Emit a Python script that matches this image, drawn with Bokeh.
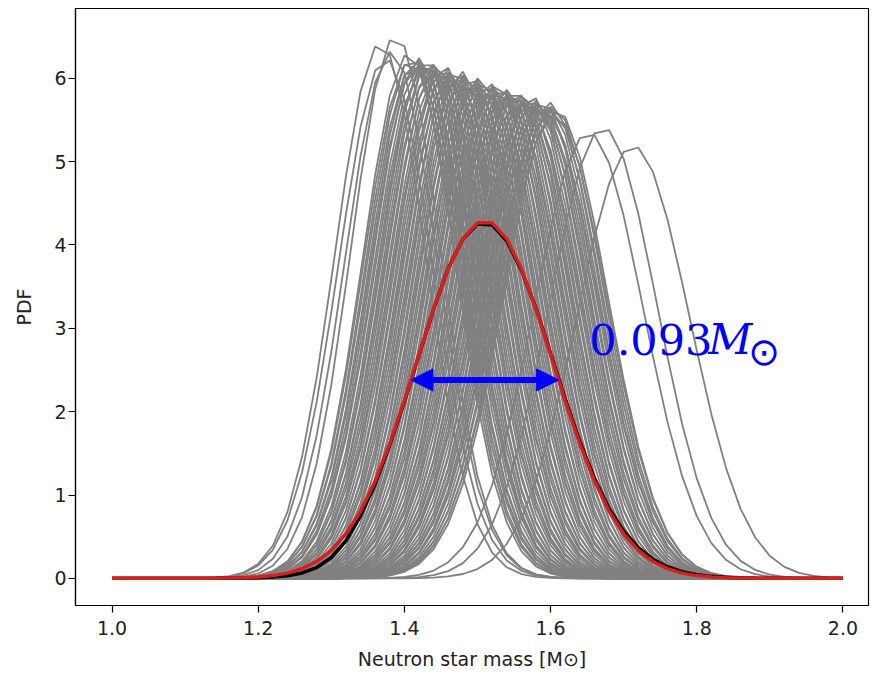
import numpy as np
from bokeh.plotting import figure
from bokeh.models import Arrow, NormalHead, Label, FixedTicker
from bokeh.embed import file_html
from bokeh.resources import INLINE

# ---------------- data ----------------
# sampling grid of the PDFs (neutron star mass, in solar masses)
mass_grid = np.linspace(1.0, 2.0, 51)

# individual posterior PDFs (grey): centre and peak height of each curve
gray_centers = [
    1.367, 1.374, 1.382, 1.388,
    1.406, 1.408, 1.411, 1.413, 1.416, 1.418, 1.420, 1.423, 1.425, 1.428,
    1.430, 1.432, 1.435, 1.437, 1.439, 1.442, 1.444, 1.447, 1.449, 1.451,
    1.454, 1.456, 1.459, 1.461, 1.463, 1.466, 1.468, 1.471, 1.473, 1.475,
    1.478, 1.480, 1.483, 1.485, 1.487, 1.490, 1.492, 1.495, 1.497, 1.499,
    1.502, 1.504, 1.507, 1.509, 1.511, 1.514, 1.516, 1.519, 1.521, 1.523,
    1.526, 1.528, 1.531, 1.533, 1.535, 1.538, 1.540, 1.543, 1.545, 1.547,
    1.550, 1.552, 1.555, 1.557, 1.559, 1.562, 1.564, 1.567, 1.569, 1.571,
    1.574, 1.576, 1.579, 1.581, 1.583, 1.586, 1.588, 1.591, 1.593, 1.595,
    1.598, 1.600, 1.603, 1.605, 1.607,
    1.652, 1.672, 1.713,
]
gray_peaks = [
    6.42, 6.24, 6.32, 6.51,
    6.30, 6.21, 6.25, 6.16, 6.22, 6.16, 6.24, 6.18, 6.10, 6.19,
    6.23, 6.14, 6.18, 6.08, 6.15, 6.09, 6.16, 6.10, 6.03, 6.12,
    6.15, 6.06, 6.11, 6.01, 6.07, 6.01, 6.09, 6.03, 5.95, 6.05,
    6.08, 5.99, 6.03, 5.93, 6.00, 5.94, 6.01, 5.95, 5.88, 5.97,
    6.00, 5.91, 5.96, 5.86, 5.92, 5.86, 5.94, 5.88, 5.80, 5.90,
    5.93, 5.84, 5.88, 5.79, 5.85, 5.79, 5.86, 5.81, 5.73, 5.82,
    5.85, 5.77, 5.81, 5.71, 5.78, 5.72, 5.79, 5.73, 5.66, 5.75,
    5.78, 5.69, 5.73, 5.64, 5.70, 5.64, 5.72, 5.66, 5.58, 5.67,
    5.71, 5.62, 5.66, 5.56, 5.63,
    5.35, 5.41, 5.19,
]

# combined PDF (black) on mass_grid
black_pdf = [
    0.0, 0.0, 0.0, 0.0, 0.0, 0.0, 0.0,
    0.0003, 0.001, 0.003, 0.007, 0.015, 0.032, 0.065, 0.13, 0.25, 0.45,
    0.75, 1.13, 1.60, 2.12, 2.68, 3.23, 3.72, 4.07, 4.25, 4.24, 4.05,
    3.70, 3.24, 2.70, 2.15, 1.64, 1.20, 0.84, 0.57, 0.37, 0.23, 0.14,
    0.08, 0.045, 0.024, 0.012, 0.006, 0.003, 0.001,
    0.0, 0.0, 0.0, 0.0, 0.0,
]
# Gaussian fit (red) on mass_grid
red_pdf = [
    0.0, 0.0, 0.0, 0.0, 0.0001, 0.0002, 0.0005, 0.0016, 0.0036, 0.0079,
    0.0166, 0.033, 0.063, 0.116, 0.202, 0.335, 0.532, 0.807, 1.168, 1.615,
    2.131, 2.686, 3.232, 3.713, 4.073, 4.265, 4.265, 4.073, 3.713, 3.232,
    2.686, 2.131, 1.615, 1.168, 0.807, 0.532, 0.335, 0.202, 0.116, 0.063,
    0.033, 0.0166, 0.0079, 0.0036, 0.0016, 0.0005, 0.0002, 0.0001, 0.0,
    0.0, 0.0,
]

width_level = 2.38          # height at which the width arrow is drawn
width_text = "0.093"        # annotated width
x_ticks = [1.0, 1.2, 1.4, 1.6, 1.8, 2.0]
x_tick_labels = ["1.0", "1.2", "1.4", "1.6", "1.8", "2.0"]
y_ticks = [0, 1, 2, 3, 4, 5, 6]
y_tick_labels = ["0", "1", "2", "3", "4", "5", "6"]

# ---------------- figure ----------------
p = figure(width=870, height=678,
           x_range=(0.95, 2.035), y_range=(-0.3255, 6.836),
           output_backend="svg", toolbar_location=None,
           min_border_left=75, min_border_right=2,
           min_border_top=8, min_border_bottom=73)
p.background_fill_color = "white"
p.border_fill_color = "white"
p.outline_line_color = "black"
p.outline_line_width = 1.2
p.grid.visible = False

xs, ys = [], []
for c, pk in zip(gray_centers, gray_peaks):
    s = 1.0 / (pk * np.sqrt(2 * np.pi))
    xs.append(list(mass_grid))
    ys.append(list(pk * np.exp(-0.5 * ((mass_grid - c) / s) ** 2)))
p.multi_line(xs, ys, line_color="#808080", line_width=1.8)

p.line(mass_grid, black_pdf, line_color="black", line_width=3.5)
p.line(mass_grid, red_pdf, line_color="#dd1c1c", line_width=3.5)

# width arrow at the red curve's crossings of width_level
red = np.array(red_pdf)
imax = int(np.argmax(red))
x_left = float(np.interp(width_level, red[:imax + 1], mass_grid[:imax + 1]))
x_right = float(np.interp(width_level, red[imax:][::-1], mass_grid[imax:][::-1]))
p.add_layout(Arrow(
    start=NormalHead(size=22, fill_color="blue", line_color="blue"),
    end=NormalHead(size=22, fill_color="blue", line_color="blue"),
    x_start=x_left, y_start=width_level, x_end=x_right, y_end=width_level,
    line_color="blue", line_width=6))

tx, ty = 1.653, 2.87
p.add_layout(Label(x=tx, y=ty, text=width_text, text_font="DejaVu Serif",
                   text_font_size="43px", text_color="blue",
                   text_baseline="alphabetic", text_align="left"))
p.add_layout(Label(x=tx, y=ty, x_offset=119, text="M", text_font="DejaVu Serif",
                   text_font_size="43px", text_font_style="italic",
                   text_color="blue", text_baseline="alphabetic", text_align="left"))
p.add_layout(Label(x=tx, y=ty, x_offset=159, y_offset=-13, text="\u2299",
                   text_font="DejaVu Sans", text_font_size="38px",
                   text_color="blue", text_baseline="alphabetic", text_align="left"))

# axes
p.xaxis.ticker = FixedTicker(ticks=x_ticks)
p.xaxis.major_label_overrides = {t: l for t, l in zip(x_ticks, x_tick_labels)}
p.yaxis.ticker = FixedTicker(ticks=y_ticks)
p.yaxis.major_label_overrides = {t: l for t, l in zip(y_ticks, y_tick_labels)}
p.xaxis.axis_label = "Neutron star mass [M\u2299]"
p.yaxis.axis_label = "PDF"
for ax in (p.xaxis[0], p.yaxis[0]):
    ax.axis_line_color = "black"
    ax.axis_line_width = 1.2
    ax.major_tick_line_color = "black"
    ax.major_tick_line_width = 1.2
    ax.major_tick_out = 7
    ax.major_tick_in = 0
    ax.minor_tick_line_color = None
    ax.major_label_text_font = "DejaVu Sans"
    ax.major_label_text_font_size = "19px"
    ax.major_label_text_color = "#222222"
    ax.axis_label_text_font = "DejaVu Sans"
    ax.axis_label_text_font_size = "19px"
    ax.axis_label_text_font_style = "normal"
    ax.axis_label_text_color = "#222222"
p.xaxis.major_label_standoff = 8
p.xaxis.axis_label_standoff = 10
p.yaxis.major_label_standoff = 2
p.yaxis.axis_label_standoff = 16

open("out.html", "w").write(file_html(p, INLINE))
